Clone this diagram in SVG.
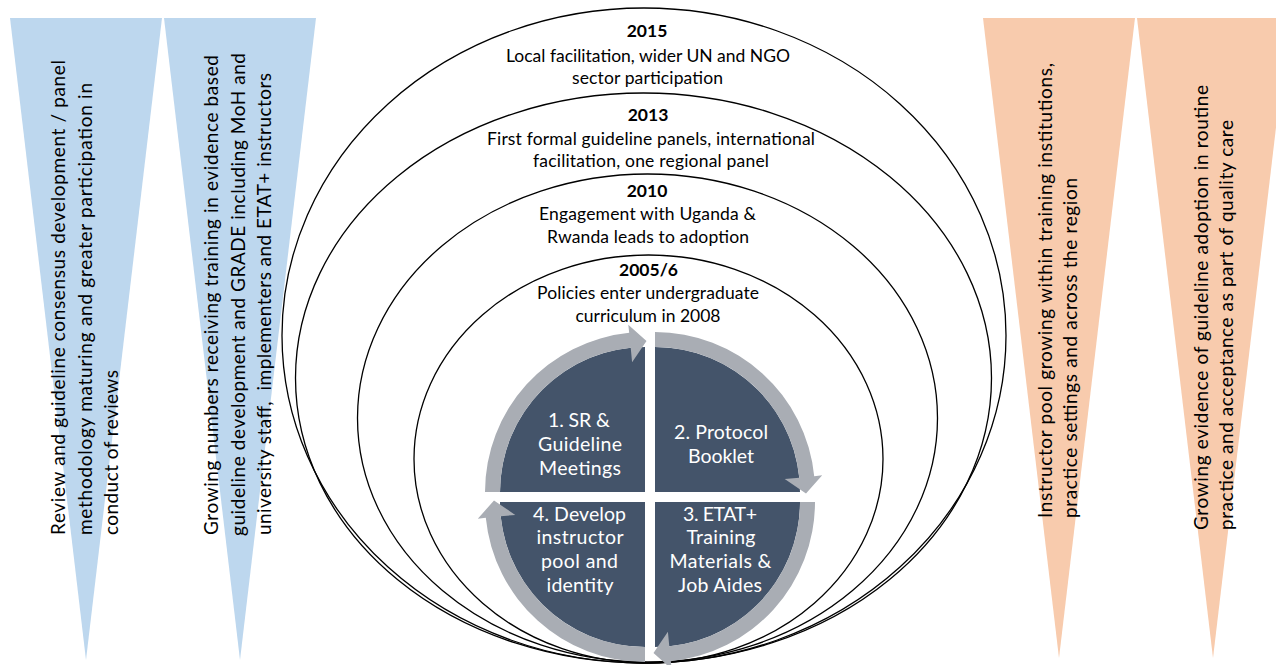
<svg xmlns="http://www.w3.org/2000/svg" width="1276" height="665" viewBox="0 0 1276 665">
<style>
text{font-family:Lato,"Liberation Sans",sans-serif;fill:#000}
.tri text{font-size:19px}
.blue{fill:#BDD7EE}
.orange{fill:#F8CBAD}
.ring{fill:none;stroke:#000;stroke-width:1.3}
.ring text{font-size:17.5px;text-anchor:middle}
.yr{font-weight:bold}
.pie{fill:#44546A}
.arrow{fill:#A9ADB4}
.step text{font-size:19.5px;fill:#fff;text-anchor:middle}
</style>
<defs>
<path id="pieShape" d="M645,492 L500,492 A145,145 0 0 1 645,347 Z"/>
<path id="arrowShape" d="M485,492 A160,160 0 0 1 629.2,332.8 L628.3,324.8 L646.5,341 L632.1,362.3 L630.7,347.7 A145,145 0 0 0 500,492 Z"/>
</defs>
<rect width="1276" height="665" fill="#fff"/>

<g id="tri-1" class="tri">
<polygon class="blue" points="10,18 162,18 86,660"/>
<text transform="translate(65 535) rotate(-90)" textLength="475">Review and guideline consensus development / panel</text>
<text transform="translate(92 535) rotate(-90)" textLength="452">methodology maturing and greater participation in</text>
<text transform="translate(118 535) rotate(-90)" textLength="165">conduct of reviews</text>
</g>
<g id="tri-2" class="tri">
<polygon class="blue" points="164,18 316,18 240,660"/>
<text transform="translate(218 535) rotate(-90)" textLength="480">Growing numbers receiving training in evidence based</text>
<text transform="translate(245 536) rotate(-90)" textLength="483">guideline development and GRADE including MoH and</text>
<text transform="translate(271 535) rotate(-90)" textLength="462" xml:space="preserve">university staff,  implementers and ETAT+ instructors</text>
</g>
<g id="tri-3" class="tri">
<polygon class="orange" points="983,18 1135,18 1059,658"/>
<text transform="translate(1052 518) rotate(-90)" textLength="455">Instructor pool growing within training institutions,</text>
<text transform="translate(1077 518) rotate(-90)" textLength="340">practice settings and across the region</text>
</g>
<g id="tri-4" class="tri">
<polygon class="orange" points="1137,18 1289,18 1213,658"/>
<text transform="translate(1208 530) rotate(-90)" textLength="445">Growing evidence of guideline adoption in routine</text>
<text transform="translate(1233 530) rotate(-90)" textLength="410">practice and acceptance as part of quality care</text>
</g>

<g id="ring-2015" class="ring">
<ellipse cx="644" cy="335.5" rx="362" ry="327.5"/>
<text x="647" y="37" class="yr" stroke="none">2015</text>
<text x="648" y="62" textLength="284" stroke="none">Local facilitation, wider UN and NGO</text>
<text x="647.5" y="84" textLength="151" stroke="none">sector participation</text>
</g>
<g id="ring-2013" class="ring">
<ellipse cx="643.5" cy="378" rx="348" ry="285"/>
<text x="648" y="121" class="yr" stroke="none">2013</text>
<text x="651" y="145" textLength="328" stroke="none">First formal guideline panels, international</text>
<text x="651" y="167" textLength="236" stroke="none">facilitation, one regional panel</text>
</g>
<g id="ring-2010" class="ring">
<ellipse cx="647.5" cy="418" rx="290" ry="244"/>
<text x="647" y="197" class="yr" stroke="none">2010</text>
<text x="647.5" y="220" textLength="217" stroke="none">Engagement with Uganda &amp;</text>
<text x="648" y="243" textLength="202" stroke="none">Rwanda leads to adoption</text>
</g>
<g id="ring-2005" class="ring">
<ellipse cx="648.5" cy="459" rx="234.5" ry="204"/>
<text x="648.5" y="276" class="yr" stroke="none">2005/6</text>
<text x="648" y="299" textLength="222" stroke="none">Policies enter undergraduate</text>
<text x="648" y="322" textLength="145" stroke="none">curriculum in 2008</text>
</g>

<g id="step-1" class="step">
<use href="#pieShape" class="pie"/>
<text x="579" y="427" textLength="62">1. SR &amp;</text>
<text x="580" y="451" textLength="84">Guideline</text>
<text x="580" y="475" textLength="82">Meetings</text>
</g>
<g id="step-2" class="step">
<use href="#pieShape" class="pie" transform="rotate(90 650 497)"/>
<text x="721" y="439" textLength="94">2. Protocol</text>
<text x="721" y="463" textLength="66">Booklet</text>
</g>
<g id="step-3" class="step">
<use href="#pieShape" class="pie" transform="rotate(180 650 497)"/>
<text x="720" y="521" textLength="74">3. ETAT+</text>
<text x="721" y="544" textLength="69">Training</text>
<text x="720.5" y="568" textLength="102">Materials &amp;</text>
<text x="720" y="592" textLength="84">Job Aides</text>
</g>
<g id="step-4" class="step">
<use href="#pieShape" class="pie" transform="rotate(270 650 497)"/>
<text x="579.5" y="521" textLength="93">4. Develop</text>
<text x="580" y="544" textLength="87">instructor</text>
<text x="579.5" y="568" textLength="77">pool and</text>
<text x="580" y="592" textLength="67">identity</text>
</g>

<g id="connectors">
<use href="#arrowShape" class="arrow"/>
<use href="#arrowShape" class="arrow" transform="rotate(90 650 497)"/>
<use href="#arrowShape" class="arrow" transform="rotate(180 650 497)"/>
<use href="#arrowShape" class="arrow" transform="rotate(270 650 497)"/>
</g>
</svg>
